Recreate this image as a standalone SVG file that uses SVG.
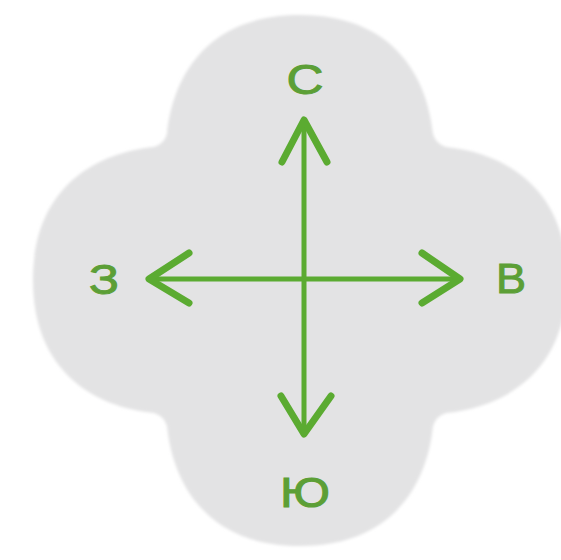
<svg xmlns="http://www.w3.org/2000/svg" width="561" height="560" viewBox="0 0 561 560">
  <defs>
    <style>
      .arrow { fill: none; stroke: #5bab31; stroke-linecap: round; stroke-linejoin: round; }
      .shaft { stroke-width: 5; }
      .head { stroke-width: 7; }
      .label { font-family: "Liberation Sans", Arial, sans-serif; font-size: 42px; fill: #5c9f36; stroke: #5c9f36; stroke-width: 1; text-anchor: middle; }
    </style>
    <filter id="soft" x="-5%" y="-5%" width="110%" height="110%">
      <feGaussianBlur stdDeviation="1.5"/>
    </filter>
  </defs>
  <rect width="561" height="560" fill="#ffffff"/>
  <g id="background-shape">
    <path filter="url(#soft)" fill="#e3e3e4" transform="translate(300,280)" d="
      M -133,-146
      C -127,-205 -92,-265 0,-265
      C 92,-265 127,-205 133,-146
      Q 136,-136 146,-133
      C 205,-127 267,-92 267,0
      C 267,92 205,127 146,133
      Q 136,136 133,146
      C 127,205 92,266 0,266
      C -92,266 -127,205 -133,146
      Q -136,136 -146,133
      C -205,127 -267,92 -267,0
      C -267,-92 -205,-127 -146,-133
      Q -136,-136 -133,-146 Z"/>
  </g>
  <g id="connectors">
    <line class="arrow shaft" x1="304" y1="122" x2="304" y2="432"/>
    <line class="arrow shaft" x1="151" y1="279" x2="458" y2="279"/>
    <polyline class="arrow head" points="282,162 304,120 327,162"/>
    <polyline class="arrow head" points="281,396 304,434 331,396"/>
    <polyline class="arrow head" points="189,253 149,279 189,303"/>
    <polyline class="arrow head" points="422,253 460,279 422,303"/>
  </g>
  <g id="node-north">
    <text class="label" x="305" y="94" textLength="37" lengthAdjust="spacingAndGlyphs">С</text>
  </g>
  <g id="node-west">
    <text class="label" x="104" y="294" textLength="30" lengthAdjust="spacingAndGlyphs">З</text>
  </g>
  <g id="node-east">
    <text class="label" x="511" y="293" textLength="30" lengthAdjust="spacingAndGlyphs">В</text>
  </g>
  <g id="node-south">
    <text class="label" x="305" y="507" textLength="50" lengthAdjust="spacingAndGlyphs">Ю</text>
  </g>
</svg>
